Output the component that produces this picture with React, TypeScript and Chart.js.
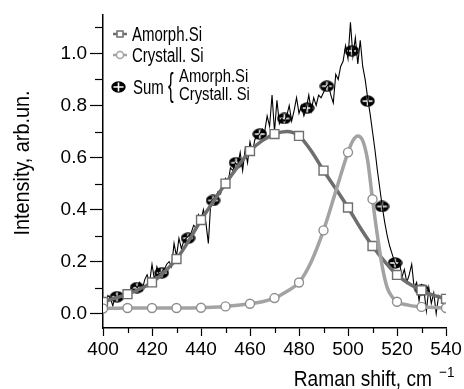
import React, { useEffect, useRef } from 'react';
import { Chart, registerables } from 'chart.js';

Chart.register(...registerables);

// ---------- data ----------
const amorphX = [400, 405, 410, 415, 420, 425, 430, 435, 440, 445, 450, 455, 460, 465, 470, 475, 480, 485, 490, 495, 500, 505, 510, 515, 520, 525, 530, 535, 540];
const amorphY = [0.045, 0.06, 0.075, 0.095, 0.12, 0.16, 0.21, 0.28, 0.36, 0.43, 0.5, 0.565, 0.625, 0.665, 0.69, 0.7, 0.683, 0.625, 0.55, 0.48, 0.408, 0.33, 0.26, 0.2, 0.149, 0.115, 0.09, 0.07, 0.057];
const amorphMarkerX = [400, 410, 420, 430, 440, 450, 460, 470, 480, 490, 500, 510, 520, 530, 540];

const crystX = [400, 410, 420, 430, 440, 450, 455, 460, 465, 470, 475, 480, 485, 490, 495, 500, 502, 504, 506, 508, 510, 512, 514, 516, 518, 520, 525, 530, 535, 540];
const crystY = [0.02, 0.022, 0.022, 0.022, 0.023, 0.028, 0.032, 0.038, 0.046, 0.06, 0.085, 0.12, 0.2, 0.32, 0.47, 0.62, 0.665, 0.683, 0.665, 0.59, 0.44, 0.3, 0.18, 0.1, 0.065, 0.046, 0.032, 0.026, 0.024, 0.022];
const crystMarkerX = [400, 410, 420, 430, 440, 450, 460, 470, 480, 490, 500, 510, 520, 530, 540];

const sumStart = 400;
const sumY = [
  0.05, 0.04, 0.07, 0.06, 0.03, 0.07, 0.065, 0.08, 0.06, 0.09,
  0.085, 0.09, 0.1, 0.11, 0.1, 0.12, 0.09, 0.13, 0.15, 0.12,
  0.19, 0.13, 0.18, 0.15, 0.16, 0.17, 0.19, 0.2, 0.18, 0.27,
  0.22, 0.29, 0.25, 0.28, 0.29, 0.3, 0.31, 0.34, 0.33, 0.38,
  0.36, 0.4, 0.35, 0.27, 0.43, 0.44, 0.45, 0.47, 0.46, 0.5,
  0.52, 0.5, 0.56, 0.55, 0.58, 0.57, 0.62, 0.55, 0.63, 0.58,
  0.66, 0.62, 0.67, 0.68, 0.69, 0.71, 0.7, 0.76, 0.72, 0.84,
  0.7, 0.82, 0.73, 0.75, 0.74, 0.76, 0.8, 0.74, 0.78, 0.83,
  0.77, 0.8, 0.76, 0.79, 0.84, 0.78, 0.83, 0.8, 0.84, 0.83,
  0.85, 0.87, 0.88, 0.84, 0.81, 0.92, 0.9, 0.95, 0.97, 1.03,
  0.98, 1.12, 0.99, 1.06, 0.96, 1.05, 0.95, 0.9, 0.83, 0.77,
  0.7, 0.63, 0.55, 0.48, 0.41, 0.35, 0.3, 0.26, 0.23, 0.2,
  0.18, 0.2, 0.14, 0.17, 0.12, 0.15, 0.19, 0.1, 0.12, 0.05,
  0.11, 0.09, 0.01, 0.1, 0.04, 0.08, 0.0, 0.07, 0.06, 0.05,
  0.06
];
const sumMarkerX = [405.7, 413.9, 424, 434.7, 444.9, 454.3, 464, 474, 483.3, 491.4, 501.6, 508, 513.9, 519.2, 530.2];
const sumMarkerY = [0.065, 0.1, 0.157, 0.29, 0.435, 0.58, 0.69, 0.75, 0.79, 0.874, 1.01, 0.817, 0.412, 0.195, 0.092];

const xTicks = [400, 420, 440, 460, 480, 500, 520, 540];
const xMinorTicks = [410, 430, 450, 470, 490, 510, 530];
const yTicks = [0, 0.2, 0.4, 0.6, 0.8, 1.0];
const yMinorTicks = [0.1, 0.3, 0.5, 0.7, 0.9, 1.1];

const legendLabels = ['Amorph.Si', 'Crystall. Si', 'Sum'];
const xTitle = 'Raman shift, cm';
const xTitleSup = '\u22121';
const yTitle = 'Intensity, arb.un.';

const FONT = '"Liberation Sans", Arial, sans-serif';
const AMORPH = '#6e6e6e';
const CRYST = '#a3a3a3';

function makeSumMarker(w: number, h: number): HTMLCanvasElement {
  const c = document.createElement('canvas');
  c.width = w;
  c.height = h;
  const g = c.getContext('2d')!;
  g.fillStyle = '#000';
  g.beginPath();
  g.ellipse(w / 2, h / 2, w / 2 - 0.3, h / 2 - 0.3, 0, 0, Math.PI * 2);
  g.fill();
  g.strokeStyle = '#fff';
  g.lineWidth = 1.6;
  g.beginPath();
  g.moveTo(2.5, h / 2);
  g.lineTo(w - 2.5, h / 2);
  g.moveTo(w / 2, 1.5);
  g.lineTo(w / 2, h - 1.5);
  g.stroke();
  return c;
}

export default function App() {
  const ref = useRef<HTMLCanvasElement>(null);

  useEffect(() => {
    document.body.style.margin = '0';
    const marker = makeSumMarker(15, 12);

    const deco = {
      id: 'deco',
      afterDraw(chart: any) {
        const ctx = chart.ctx as CanvasRenderingContext2D;
        const xs = chart.scales.x;
        const ys = chart.scales.y;
        const left = chart.chartArea.left;
        const bottom = chart.chartArea.bottom;
        ctx.save();
        // minor ticks
        ctx.strokeStyle = '#000';
        ctx.lineWidth = 1.2;
        yMinorTicks.forEach((v) => {
          const py = Math.round(ys.getPixelForValue(v)) + 0.5;
          ctx.beginPath();
          ctx.moveTo(left - 8, py);
          ctx.lineTo(left, py);
          ctx.stroke();
        });
        xMinorTicks.forEach((v) => {
          const px = Math.round(xs.getPixelForValue(v)) + 0.5;
          ctx.beginPath();
          ctx.moveTo(px, bottom);
          ctx.lineTo(px, bottom + 5);
          ctx.stroke();
        });

        ctx.fillStyle = '#000';
        // y title
        ctx.save();
        ctx.translate(23, 163);
        ctx.rotate(-Math.PI / 2);
        ctx.scale(0.9, 1);
        ctx.font = `22px ${FONT}`;
        ctx.textAlign = 'center';
        ctx.textBaseline = 'middle';
        ctx.fillText(yTitle, 0, 0);
        ctx.restore();

        // x title
        ctx.save();
        ctx.translate(432, 386);
        ctx.scale(0.87, 1);
        ctx.font = `22px ${FONT}`;
        ctx.textAlign = 'right';
        ctx.textBaseline = 'alphabetic';
        ctx.fillText(xTitle, 0, 0);
        ctx.restore();
        ctx.save();
        ctx.translate(439, 377);
        ctx.scale(0.9, 1);
        ctx.font = `15px ${FONT}`;
        ctx.textAlign = 'left';
        ctx.fillText(xTitleSup, 0, 0);
        ctx.restore();

        // legend
        const drawText = (t: string, x: number, y: number, size: number, sx: number) => {
          ctx.save();
          ctx.translate(x, y);
          ctx.scale(sx, 1);
          ctx.font = `${size}px ${FONT}`;
          ctx.textAlign = 'left';
          ctx.textBaseline = 'middle';
          ctx.fillText(t, 0, 0);
          ctx.restore();
        };
        // row 1
        ctx.strokeStyle = AMORPH;
        ctx.lineWidth = 2.5;
        ctx.beginPath();
        ctx.moveTo(113, 34);
        ctx.lineTo(127, 34);
        ctx.stroke();
        ctx.fillStyle = '#fff';
        ctx.lineWidth = 1.5;
        ctx.fillRect(117, 31, 6, 6);
        ctx.strokeRect(117, 31, 6, 6);
        ctx.fillStyle = '#000';
        drawText(legendLabels[0], 132, 35, 20, 0.75);
        // row 2
        ctx.strokeStyle = CRYST;
        ctx.lineWidth = 2.5;
        ctx.beginPath();
        ctx.moveTo(113, 55);
        ctx.lineTo(127, 55);
        ctx.stroke();
        ctx.fillStyle = '#fff';
        ctx.lineWidth = 1.5;
        ctx.beginPath();
        ctx.arc(120, 55, 3.5, 0, Math.PI * 2);
        ctx.fill();
        ctx.stroke();
        ctx.fillStyle = '#000';
        drawText(legendLabels[1], 132, 56, 20, 0.75);
        // row 3
        ctx.drawImage(marker, 111, 81);
        drawText(legendLabels[2], 133, 88, 20, 0.75);
        ctx.save();
        ctx.translate(168, 87);
        ctx.scale(0.5, 1);
        ctx.font = `34px ${FONT}`;
        ctx.textBaseline = 'middle';
        ctx.fillText('{', 0, 0);
        ctx.restore();
        drawText(legendLabels[0], 179, 77, 19, 0.78);
        drawText(legendLabels[1], 179, 95, 19, 0.78);
        ctx.restore();
      },
    };

    const chart = new Chart(ref.current!, {
      type: 'line',
      data: {
        datasets: [
          {
            label: 'Crystall. Si',
            data: crystX.map((x, i) => ({ x, y: crystY[i] })),
            borderColor: CRYST,
            borderWidth: 3.5,
            cubicInterpolationMode: 'monotone',
            pointStyle: 'circle',
            pointRadius: (c: any) => (crystMarkerX.includes(crystX[c.dataIndex]) ? 4.5 : 0),
            pointBackgroundColor: '#fff',
            pointBorderColor: '#8f8f8f',
            pointBorderWidth: 1.4,
          },
          {
            label: 'Amorph.Si',
            data: amorphX.map((x, i) => ({ x, y: amorphY[i] })),
            borderColor: AMORPH,
            borderWidth: 3.5,
            cubicInterpolationMode: 'monotone',
            pointStyle: 'rect',
            pointRadius: (c: any) => (amorphMarkerX.includes(amorphX[c.dataIndex]) ? 6.3 : 0),
            pointBackgroundColor: '#fff',
            pointBorderColor: AMORPH,
            pointBorderWidth: 1.4,
          },
          {
            label: 'Sum',
            data: sumY.map((y, i) => ({ x: sumStart + i, y })),
            borderColor: '#000',
            borderWidth: 1.1,
            tension: 0,
            pointRadius: 0,
          },
          {
            label: 'Sum markers',
            data: sumMarkerX.map((x, i) => ({ x, y: sumMarkerY[i] })),
            showLine: false,
            pointStyle: marker as any,
            pointRadius: 7,
          },
        ],
      },
      options: {
        responsive: false,
        animation: false,
        events: [],
        layout: { padding: { left: 0, top: 12, right: 18, bottom: 0 } },
        plugins: { legend: { display: false }, tooltip: { enabled: false } },
        scales: {
          x: {
            type: 'linear',
            min: 400,
            max: 540,
            afterBuildTicks: (s: any) => {
              s.ticks = xTicks.map((v) => ({ value: v }));
            },
            afterFit: (s: any) => {
              s.height = 61;
            },
            ticks: {
              color: '#000',
              font: { family: FONT, size: 19 },
              padding: 2,
              maxRotation: 0,
              autoSkip: false,
              callback: (v: any) => String(v),
            },
            grid: { drawOnChartArea: false, drawTicks: true, tickLength: 8, tickColor: '#000', tickWidth: 1.2 },
            border: { display: true, color: '#000', width: 1.5 },
          },
          y: {
            type: 'linear',
            min: -0.055,
            max: 1.15,
            afterBuildTicks: (s: any) => {
              s.ticks = yTicks.map((v) => ({ value: v }));
            },
            afterFit: (s: any) => {
              s.width = 103;
            },
            ticks: {
              color: '#000',
              font: { family: FONT, size: 19 },
              padding: 3,
              autoSkip: false,
              callback: (v: any) => Number(v).toFixed(1),
            },
            grid: { drawOnChartArea: false, drawTicks: true, tickLength: 13, tickColor: '#000', tickWidth: 1.2 },
            border: { display: true, color: '#000', width: 1.5 },
          },
        },
      },
      plugins: [deco],
    } as any);

    return () => chart.destroy();
  }, []);

  return <canvas ref={ref} width={464} height={389} style={{ display: 'block' }} />;
}
